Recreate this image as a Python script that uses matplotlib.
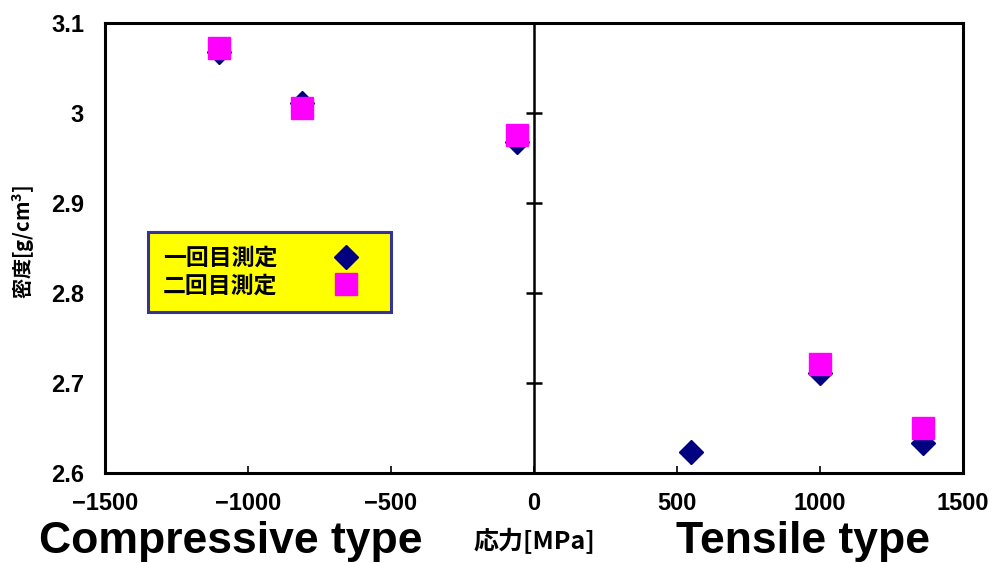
import matplotlib
matplotlib.use('Agg')
import matplotlib.pyplot as plt
import numpy as np

plt.rcParams['font.family'] = ['Liberation Sans', 'Noto Sans CJK JP', 'DejaVu Sans']
plt.rcParams['mathtext.default'] = 'regular'

# data
stress = [-1100, -810, -60, 550, 1000, 1360]
density_1st = [3.068, 3.011, 2.968, 2.623, 2.711, 2.633]
stress_2nd = [-1100, -810, -60, 1000, 1360]
density_2nd = [3.072, 3.006, 2.976, 2.721, 2.650]

x_ticks = [-1500, -1000, -500, 0, 500, 1000, 1500]
y_ticks = [2.6, 2.7, 2.8, 2.9, 3.0, 3.1]
y_ticklabels = ['2.6', '2.7', '2.8', '2.9', '3', '3.1']

fig = plt.figure(figsize=(9.95, 5.63), dpi=100)
ax = fig.add_axes([0.1055, 0.16, 0.8625, 0.799])

ax.plot(stress, density_1st, linestyle='none', marker='D', ms=12,
        color='#000080', label='一回目測定')
ax.plot(stress_2nd, density_2nd, linestyle='none', marker='s', ms=15.5,
        color='#FF00FF', label='二回目測定')

ax.set_xlim(-1500, 1500)
ax.set_ylim(2.6, 3.1)
ax.set_xticks(x_ticks)
ax.set_yticks(y_ticks)
ax.set_yticklabels(y_ticklabels)
for s in ax.spines.values():
    s.set_linewidth(2.2)
ax.tick_params(axis='y', length=0, pad=15, labelsize=17)
ax.tick_params(axis='x', direction='in', length=5, width=1.2, pad=14, labelsize=17)
for lab in ax.get_xticklabels() + ax.get_yticklabels():
    lab.set_fontweight('bold')

# y axis crossing at stress = 0
ax2 = ax.twinx()
ax2.set_ylim(2.6, 3.1)
ax2.set_yticks(y_ticks)
for name in ['top', 'bottom', 'left']:
    ax2.spines[name].set_visible(False)
ax2.spines['right'].set_position(('data', 0))
ax2.spines['right'].set_linewidth(1.8)
ax2.tick_params(axis='y', direction='inout', length=12, width=1.8, labelright=False)

ax.set_ylabel('密度[g/cm$^3$]', fontsize=14.5, fontweight='bold',
              family=['Noto Sans CJK JP', 'DejaVu Sans'])
ax.yaxis.set_label_coords(-0.079, 0.513)

leg = ax.legend(loc='upper left', bbox_to_anchor=(0.149, 0.588),
                bbox_transform=fig.transFigure, borderaxespad=0,
                markerfirst=False, fancybox=False, framealpha=1,
                facecolor='#FFFF00', edgecolor='#333399',
                prop={'family': 'Noto Sans CJK JP', 'weight': 'bold', 'size': 16.5},
                handletextpad=1.7, borderpad=0.65, labelspacing=0.2,
                handlelength=2.6)
leg.get_frame().set_linewidth(2.2)

fig.text(0.232, 0.018, 'Compressive type', fontsize=32, fontweight='bold',
         ha='center', va='baseline')
fig.text(0.537, 0.039, '応力[MPa]', fontsize=18, fontweight='bold',
         family=['Noto Sans CJK JP', 'DejaVu Sans'], ha='center', va='center')
fig.text(0.807, 0.018, 'Tensile type', fontsize=32, fontweight='bold',
         ha='center', va='baseline')

fig.savefig('out.png', dpi=100)
